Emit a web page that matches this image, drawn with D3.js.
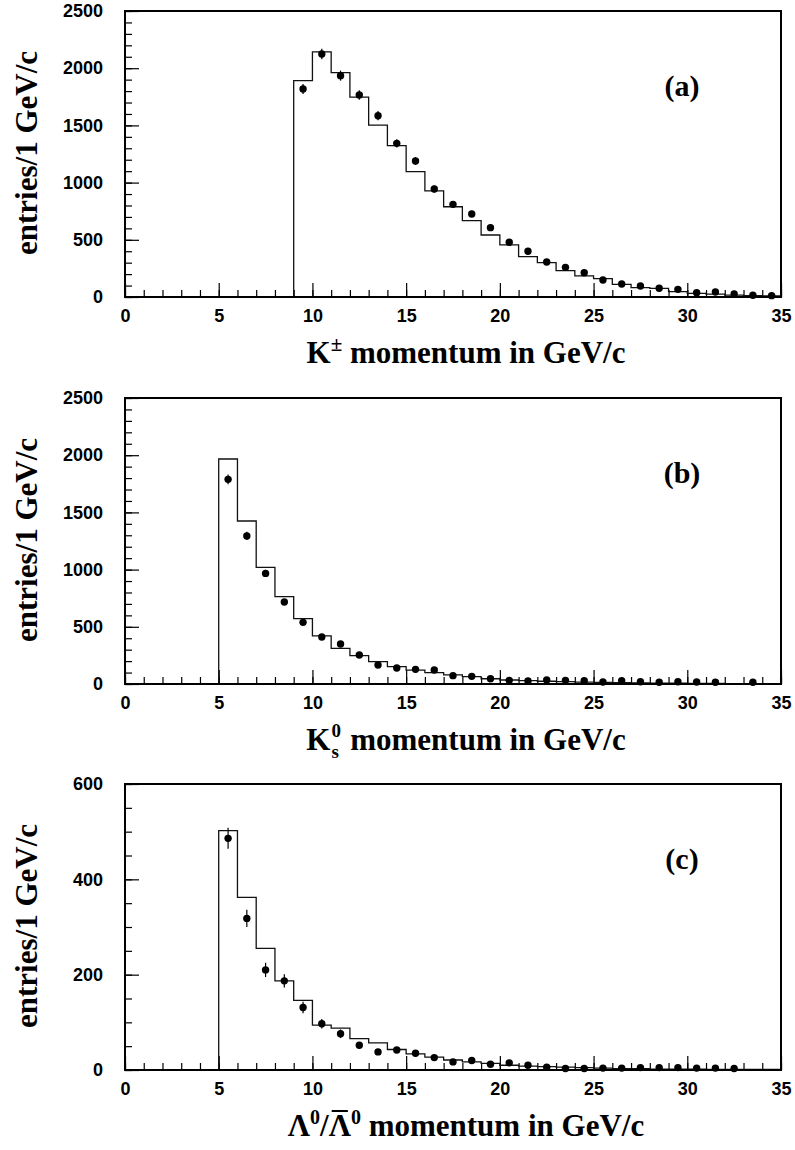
<!DOCTYPE html>
<html>
<head>
<meta charset="utf-8">
<script src="https://cdn.jsdelivr.net/npm/d3@7"></script>
<style>
  body { margin: 0; background: #fff; }
  svg { display: block; }
  .tick text { font-family: "Liberation Sans", Arial, sans-serif; font-weight: bold; font-size: 18px; fill: #000; }
  .title { font-family: "Liberation Serif", "Times New Roman", serif; font-weight: bold; fill: #000; }
</style>
</head>
<body>
<div id="chart"></div>
<script>

// momentum axis, bins of 1 GeV/c
var x_ticks = [0, 5, 10, 15, 20, 25, 30, 35]

// (a) charged kaons, histogram starts at 9 GeV/c
var ka_start = 9
var ka_hist = [1891, 2142, 1961, 1748, 1503, 1323, 1096, 927, 789, 667, 542, 455, 353,
               300, 230, 184, 160, 111, 82, 76, 47, 32, 26, 17, 12, 10]
var ka_data = [1818, 2124, 1935, 1766, 1585, 1343, 1189, 944, 810, 726, 606, 478, 400,
               306, 259, 212, 149, 114, 96, 76, 67, 38, 44, 26, 15, 12]
var ka_err  = [43, 46, 44, 42, 40, 37, 34, 31, 28, 27, 25, 22, 20,
               17, 16, 15, 12, 11, 10, 9, 8, 6, 7, 5, 4, 3]

// (b) K0s, histogram starts at 5 GeV/c
var ks_start = 5
var ks_hist = [1967, 1425, 1020, 763, 571, 420, 312, 248, 195, 152, 122, 99,
               79, 64, 46, 35, 29, 24, 20, 17, 14, 12, 10, 8, 7, 6, 5, 4, 3, 3]
var ks_data = [1789, 1294, 967, 717, 539, 411, 350, 253, 166, 140, 128, 122,
               73, 67, 46, 32, 26, 35, 32, 29, 17, 29, 20, 15, 20, 17, 15, null, 15, null]
var ks_err  = [42, 36, 31, 27, 23, 20, 19, 16, 13, 12, 11, 11,
               9, 8, 7, 6, 5, 6, 6, 5, 4, 5, 4, 4, 4, 4, 4, null, 4, null]

// (c) lambdas, histogram starts at 5 GeV/c
var la_start = 5
var la_hist = [502, 362, 255, 187, 146, 94, 88, 66, 57, 43, 34, 27,
               21, 17, 14, 10, 8, 7, 6, 5, 4, 3, 3, 2, 2, 2, 1, 1, 1, 1]
var la_data = [486, 318, 210, 187, 131, 97, 76, 52, 38, 42, 35, 26,
               17, 20, 12, 15, 10, 6, 3, 3, 4, 4, 5, 5, 5, 4, 4, 3, null, null]
var la_err  = [22, 18, 15, 14, 12, 10, 9, 7, 6, 6, 6, 5,
               4, 4, 3, 4, 3, 2, 2, 2, 2, 2, 2, 2, 2, 2, 2, 2, null, null]

var W = 795, H = 1150
var left = 125, right = 781, ph = 286
var tops = [11, 398, 784]

var svg = d3.select("#chart").append("svg").attr("width", W).attr("height", H)

var x = d3.scaleLinear().domain([0, 35]).range([left, right])

function panel(top, ymax, ymajor, yminor, start, hist, data, err, tag, xtitle) {

  var y = d3.scaleLinear().domain([0, ymax]).range([top + ph, top])
  var g = svg.append("g")

  // minor + major ticks, inside the frame
  g.append("g").attr("transform", "translate(0," + (top + ph) + ")")
    .call(d3.axisBottom(x).tickValues(d3.range(0, 36, 1)).tickSize(-7).tickFormat(""))
  g.append("g").attr("transform", "translate(0," + (top + ph) + ")")
    .call(d3.axisBottom(x).tickValues(x_ticks).tickSize(-14).tickPadding(12).tickFormat(d3.format("d")))
  g.append("g").attr("transform", "translate(" + left + ",0)")
    .call(d3.axisLeft(y).tickValues(d3.range(0, ymax + 1, yminor)).tickSize(-7).tickFormat(""))
  g.append("g").attr("transform", "translate(" + left + ",0)")
    .call(d3.axisLeft(y).tickValues(d3.range(0, ymax + 1, ymajor)).tickSize(-14).tickPadding(22).tickFormat(d3.format("d")))

  g.selectAll(".domain").remove()
  g.selectAll(".tick line").attr("stroke", "#000").attr("stroke-width", 1.2)

  // histogram as a step line
  var pts = [{x: start, v: 0}]
  hist.forEach(function(v, i){ pts.push({x: start + i, v: v}) })
  pts.push({x: 35, v: 0})
  var line = d3.line().curve(d3.curveStepAfter)
    .x(function(d){ return x(d.x) })
    .y(function(d){ return y(d.v) })
  g.append("path").datum(pts)
    .attr("d", line)
    .attr("fill", "none")
    .attr("stroke", "#111")
    .attr("stroke-width", 1.3)

  // data points with error bars
  var pd = data.map(function(v, i){ return {x: start + i + 0.5, v: v, e: err[i]} })
    .filter(function(d){ return d.v != null })
  g.selectAll(".err").data(pd).enter().append("line")
    .attr("class", "err")
    .attr("x1", function(d){ return x(d.x) })
    .attr("x2", function(d){ return x(d.x) })
    .attr("y1", function(d){ return y(d.v - d.e) })
    .attr("y2", function(d){ return y(d.v + d.e) })
    .attr("stroke", "#000")
    .attr("stroke-width", 1.2)
  g.selectAll(".pt").data(pd).enter().append("circle")
    .attr("class", "pt")
    .attr("cx", function(d){ return x(d.x) })
    .attr("cy", function(d){ return y(d.v) })
    .attr("r", 3.7)
    .attr("fill", "#000")

  // frame
  g.append("rect")
    .attr("x", left).attr("y", top)
    .attr("width", right - left).attr("height", ph)
    .attr("fill", "none").attr("stroke", "#000").attr("stroke-width", 2)

  // panel tag
  g.append("text").attr("class", "title")
    .attr("x", 682).attr("y", top + 85)
    .attr("text-anchor", "middle")
    .style("font-size", "30px")
    .text(tag)

  // y title
  g.append("text").attr("class", "title")
    .attr("transform", "translate(37," + (top + 142) + ") rotate(-90)")
    .attr("text-anchor", "middle")
    .style("font-size", "31px")
    .text("entries/1 GeV/c")

  // x title
  var t = g.append("text").attr("class", "title")
    .attr("x", 466).attr("y", top + ph + 66)
    .attr("text-anchor", "middle")
    .style("font-size", "31px")
  xtitle(t, g)
}

panel(tops[0], 2500, 500, 100, ka_start, ka_hist, ka_data, ka_err, "(a)", function(t){
  t.append("tspan").text("K")
  t.append("tspan").attr("dy", -12).style("font-size", "21px").text("\u00B1")
  t.append("tspan").attr("dy", 12).text(" momentum in GeV/c")
})

// K0s: subscript s and superscript 0 stacked, as two separate labels
panel(tops[1], 2500, 500, 100, ks_start, ks_hist, ks_data, ks_err, "(b)", function(t, g){
  t.append("tspan").text("K")
  t.append("tspan").attr("dx", 12).text(" momentum in GeV/c")
  var k = t.node().getExtentOfChar(0)
  var base = tops[1] + ph + 66
  g.append("text").attr("class", "title")
    .attr("x", k.x + k.width + 1).attr("y", base + 8)
    .style("font-size", "19px")
    .text("s")
  g.append("text").attr("class", "title")
    .attr("x", k.x + k.width + 1).attr("y", base - 13)
    .style("font-size", "19px")
    .text("0")
})

panel(tops[2], 600, 200, 50, la_start, la_hist, la_data, la_err, "(c)", function(t, g){
  t.append("tspan").text("\u039B")
  t.append("tspan").attr("dy", -12).style("font-size", "20px").text("0")
  t.append("tspan").attr("dy", 12).text("/\u039B")
  t.append("tspan").attr("dy", -12).style("font-size", "20px").text("0")
  t.append("tspan").attr("dy", 12).text(" momentum in GeV/c")
  // bar over the second lambda
  var b = t.node().getExtentOfChar(3)
  g.append("line")
    .attr("x1", b.x + 3).attr("x2", b.x + b.width - 3)
    .attr("y1", b.y + 3).attr("y2", b.y + 3)
    .attr("stroke", "#000").attr("stroke-width", 2)
})

</script>
</body>
</html>
